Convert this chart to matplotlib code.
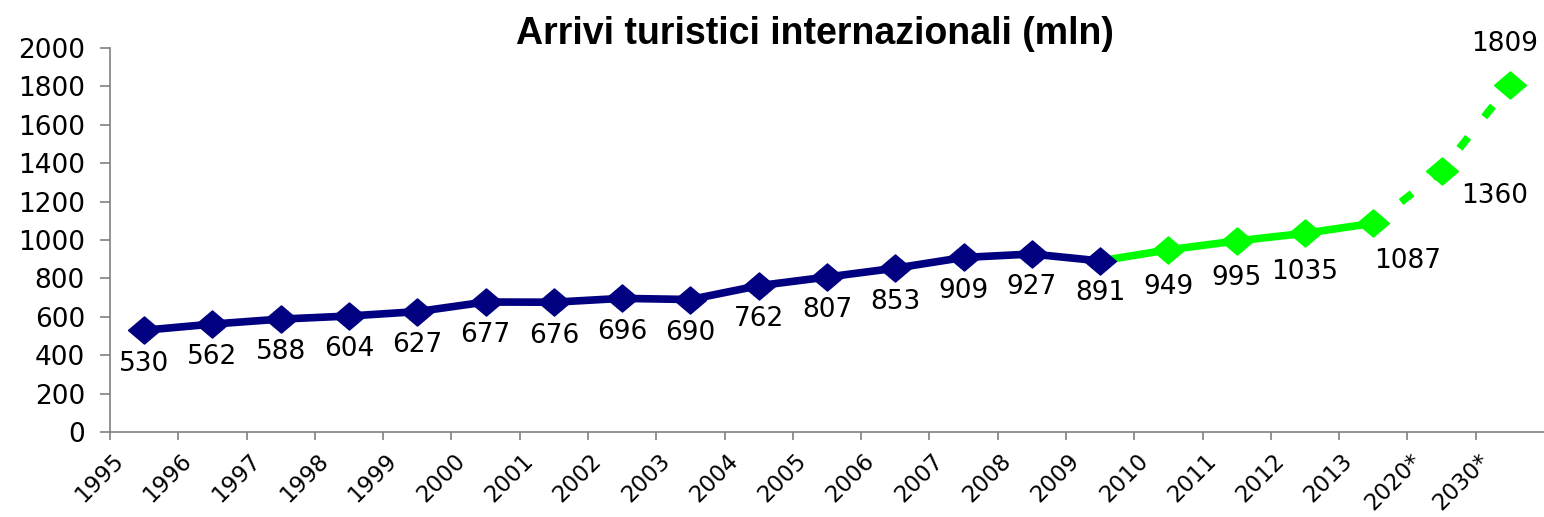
import numpy as np
import matplotlib
matplotlib.use("Agg")
import matplotlib.pyplot as plt
from matplotlib.path import Path

# data
years = ["1995", "1996", "1997", "1998", "1999", "2000", "2001", "2002", "2003",
         "2004", "2005", "2006", "2007", "2008", "2009", "2010", "2011", "2012",
         "2013", "2020*", "2030*"]
arrivals = [530, 562, 588, 604, 627, 677, 676, 696, 690, 762, 807, 853, 909,
            927, 891, 949, 995, 1035, 1087, 1360, 1809]
y_ticks = [0, 200, 400, 600, 800, 1000, 1200, 1400, 1600, 1800, 2000]

N_HIST = 15    # 1995-2009 in navy
N_ACTUAL = 19  # up to 2013 solid, then forecasts dashed

NAVY = "#000080"
GREEN = "#00ff00"
GRAY = "#808080"
FS = 19
FS_X = 16.5

# label offsets (points) where they differ from the default below the marker
label_offsets = {891: (0, -23), 949: (0, -27), 995: (0, -27), 1035: (0, -28),
                 1087: (25, -27), 1360: (38, -18), 1809: (-4, 29)}

diamond = Path([(-1, 0), (0, -0.85), (1, 0), (0, 0.85), (-1, 0)],
               [Path.MOVETO, Path.LINETO, Path.LINETO, Path.LINETO, Path.CLOSEPOLY])
MS = 23

fig = plt.figure(figsize=(15.44, 5.17), dpi=100)
ax = fig.add_axes([0.0712, 0.1644, 0.9288, 0.7428])

x = np.arange(len(years)) + 0.5
y = np.array(arrivals)

# green actual 2009-2013
ax.plot(x[N_HIST - 1:N_ACTUAL], y[N_HIST - 1:N_ACTUAL], color=GREEN, lw=5.5,
        zorder=2)
ax.plot(x[N_HIST:N_ACTUAL], y[N_HIST:N_ACTUAL], ls="none", marker=diamond,
        ms=MS, color=GREEN, zorder=3)
# forecast dashed
ax.plot(x[N_ACTUAL - 1:], y[N_ACTUAL - 1:], color=GREEN, lw=5.5,
        ls=(0.65, (1.83, 3.4)), dash_capstyle="butt", zorder=2)
ax.plot(x[N_ACTUAL:], y[N_ACTUAL:], ls="none", marker=diamond, ms=MS,
        color=GREEN, zorder=3)
# navy history
ax.plot(x[:N_HIST], y[:N_HIST], color=NAVY, lw=5.5, marker=diamond, ms=MS,
        zorder=4)

for xi, v in zip(x, arrivals):
    off = label_offsets.get(v, (0, -24))
    ax.annotate(str(v), (xi, v), xytext=off, textcoords="offset points",
                ha="center", va="center", fontsize=FS, family="DejaVu Sans",
                color="black", zorder=5)

ax.set_xlim(0, len(years))
ax.set_ylim(0, 2000)
ax.set_yticks(y_ticks)
# tick marks at category boundaries, labels drawn a little to the right of them
ax.set_xticks(np.arange(len(years)))
ax.set_xticklabels([])
ax.set_xticks(np.arange(len(years)) + 0.15, years, minor=True)
for lab in ax.get_xticklabels(minor=True):
    lab.set_rotation(45)
    lab.set_ha("right")
    lab.set_va("center")
    lab.set_rotation_mode("anchor")
    lab.set_fontsize(FS_X)
    lab.set_family("DejaVu Sans")
for lab in ax.get_yticklabels():
    lab.set_fontsize(FS)
    lab.set_family("DejaVu Sans")

for side in ("top", "right"):
    ax.spines[side].set_visible(False)
for side in ("left", "bottom"):
    ax.spines[side].set_color(GRAY)
    ax.spines[side].set_linewidth(1.2)
ax.tick_params(axis="y", direction="out", length=7, width=1.2, color=GRAY, pad=11)
ax.tick_params(axis="x", which="major", direction="out", length=6, width=1.2,
               color=GRAY)
ax.tick_params(axis="x", which="minor", length=0, pad=18)

fig.text(0.528, 0.935, "Arrivi turistici internazionali (mln)", ha="center",
         va="center", fontsize=27, fontweight="bold",
         family=["Liberation Sans Narrow", "Liberation Sans"])

fig.savefig("out.png", dpi=100)
